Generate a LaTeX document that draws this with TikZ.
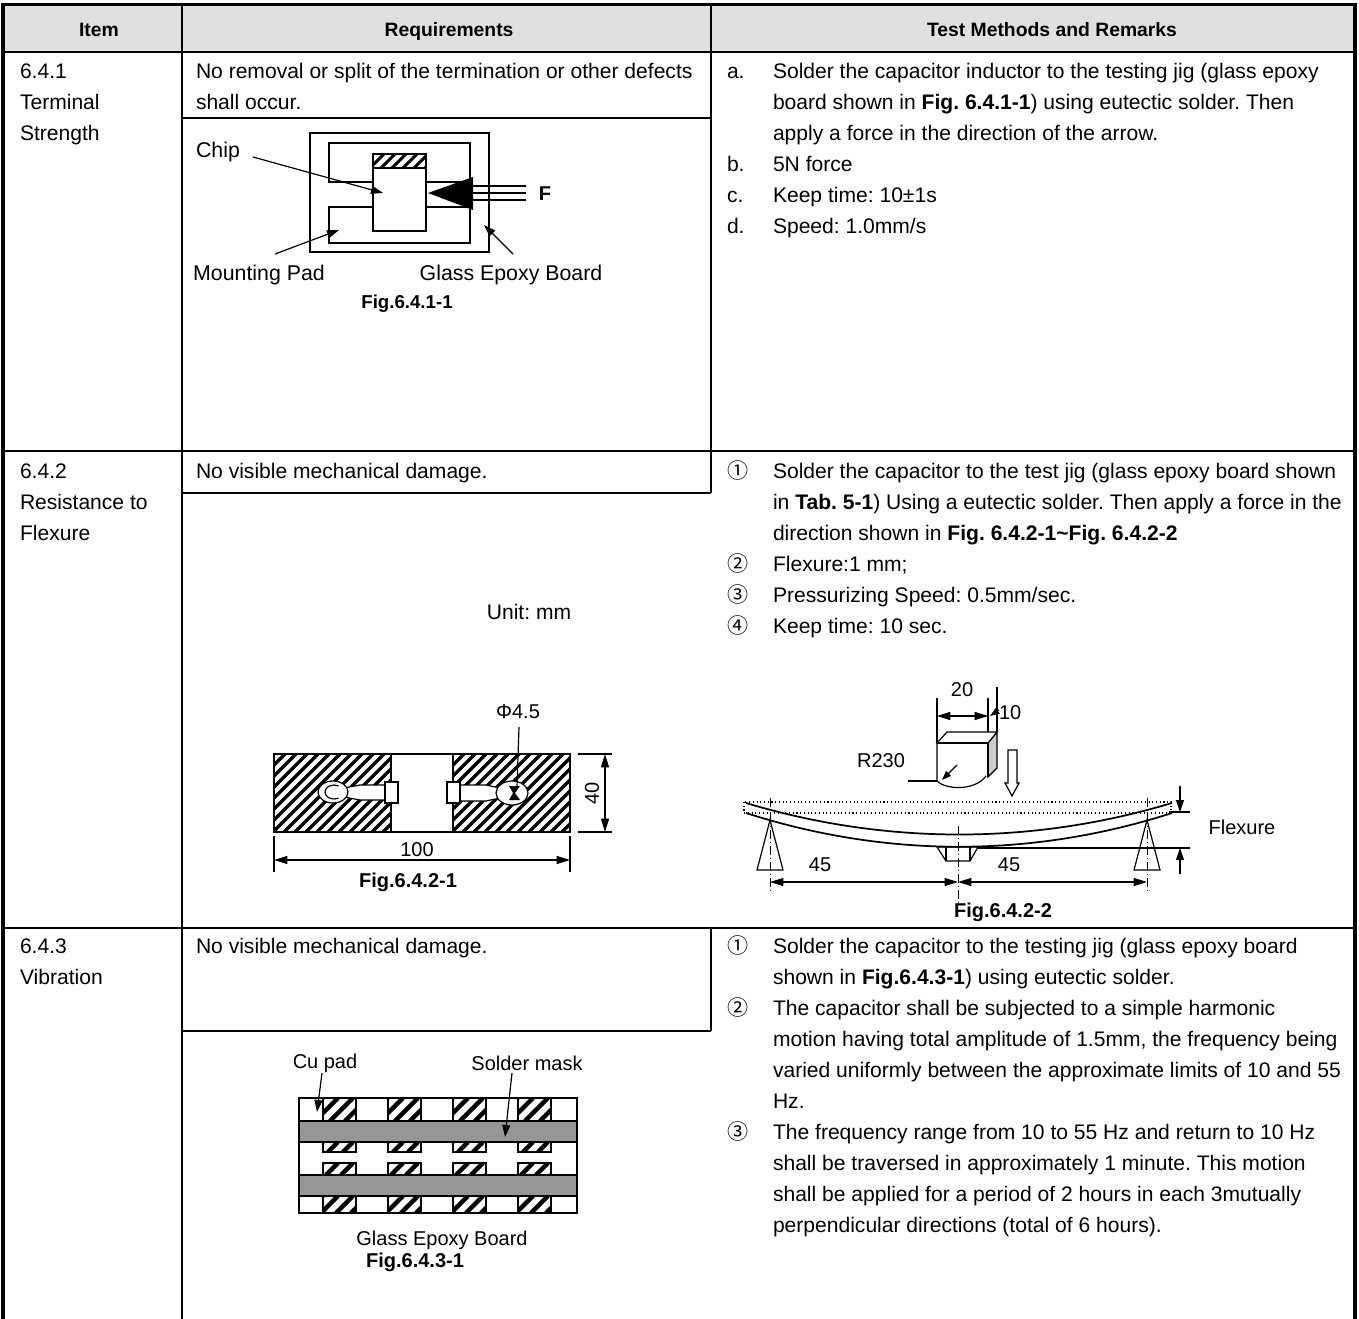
\documentclass[tikz,border=0pt]{standalone}
\usepackage{fontspec}
\setmainfont{Liberation Sans}
\newfontfamily\circfont{Noto Sans CJK SC}
\usetikzlibrary{arrows.meta}
\definecolor{hdgray}{RGB}{224,224,224}
\definecolor{maskgray}{RGB}{150,150,150}
\definecolor{sidegray}{RGB}{205,205,205}
\frenchspacing
% x1 y1 x2 y2 spacing linewidth
\newcommand{\hatchbox}[6]{%
  \begin{scope}
  \pgfmathsetmacro{\hxa}{#1}
  \pgfmathsetmacro{\hxb}{#3}
  \pgfmathsetmacro{\hh}{#4-#2}
  \pgfmathsetmacro{\hs}{\hxa-\hh}
  \pgfmathsetmacro{\hn}{\hs+#5}
  \clip (\hxa,#2) rectangle (\hxb,#4);
  \foreach \hx in {\hs,\hn,...,\hxb} \draw[line width=#6] (\hx,#4) -- ++(\hh,-\hh);
  \end{scope}}
\begin{document}
\begin{tikzpicture}[x=0.75pt,y=-0.75pt,
  every node/.style={inner sep=0pt,outer sep=0pt},
  txt/.style={anchor=base west,font=\fontsize{15.8}{18}\selectfont},
  hd/.style={anchor=base,font=\fontsize{14.5}{16}\selectfont\bfseries},
  lbl/.style={font=\fontsize{15}{18}\selectfont},
  figcap/.style={font=\fontsize{15}{18}\selectfont\bfseries},
  grid/.style={line width=1.5pt},
  outerline/.style={line width=3pt},
  thinline/.style={line width=0.9pt},
  figline/.style={line width=1.1pt},
  arr/.style={thinline,-{Triangle[length=9pt,width=6pt]}},
  dimarr/.style={thinline,{Triangle[length=10pt,width=6pt]}-{Triangle[length=10pt,width=6pt]}},
  axisline/.style={line width=0.6pt,dash pattern=on 7pt off 2pt on 1pt off 2pt},
]
\useasboundingbox (0,0) rectangle (1359,1319);

% ---------------- table ----------------
\fill[hdgray] (3,5) rectangle (1355,52);
\draw[line width=2.25pt] (1,5) -- (1357,5);
\draw[grid] (3,52) -- (1355,52);
\draw[grid] (3,451) -- (1355,451);
\draw[grid] (3,928) -- (1355,928);
\draw[grid] (182,5) -- (182,1319);
\draw[grid] (711,5) -- (711,493);
\draw[grid] (711,928) -- (711,1031);
\draw[grid] (182,118) -- (711,118);
\draw[grid] (182,493) -- (711,493);
\draw[grid] (182,1031) -- (711,1031);
\draw[outerline] (3,4) -- (3,1319);
\draw[outerline] (1355,4) -- (1355,1319);

% header
\node[hd] (h1) at (99,37) {Item};
\node[hd] (h2) at (449,37) {Requirements};
\node[hd] (h3) at (1052,37) {Test Methods and Remarks};

% item column
\node[txt] (i1a) at (20,79) {6.4.1};
\node[txt] (i1b) at (20,110) {Terminal};
\node[txt] (i1c) at (20,141) {Strength};
\node[txt] (i2a) at (20,478) {6.4.2};
\node[txt] (i2b) at (20,509) {Resistance to};
\node[txt] (i2c) at (20,540) {Flexure};
\node[txt] (i3a) at (20,953) {6.4.3};
\node[txt] (i3b) at (20,984) {Vibration};

% requirements
\node[txt] (q1a) at (196,79) {No removal or split of the termination or other defects};
\node[txt] (q1b) at (196,110) {shall occur.};
\node[txt] (q2a) at (196,478) {No visible mechanical damage.};
\node[txt] (q3a) at (196,953) {No visible mechanical damage.};

% test methods row 1
\node[txt] (m1a) at (727,79) {a.};
\node[txt] (t1a) at (773,79) {Solder the capacitor inductor to the testing jig (glass epoxy};
\node[txt] (t1b) at (773,110) {board shown in \textbf{Fig. 6.4.1-1}) using eutectic solder. Then};
\node[txt] (t1c) at (773,141) {apply a force in the direction of the arrow.};
\node[txt] (m1b) at (727,172) {b.};
\node[txt] (t1d) at (773,172) {5N force};
\node[txt] (m1c) at (727,203) {c.};
\node[txt] (t1e) at (773,203) {Keep time: 10±1s};
\node[txt] (m1d) at (727,234) {d.};
\node[txt] (t1f) at (773,234) {Speed: 1.0mm/s};

% test methods row 2
\node[txt] (m2a) at (727,478) {\circfont ①};
\node[txt] (t2a) at (773,478) {Solder the capacitor to the test jig (glass epoxy board shown};
\node[txt] (t2b) at (773,509) {in \textbf{Tab. 5-1}) Using a eutectic solder. Then apply a force in the};
\node[txt] (t2c) at (773,540) {direction shown in \textbf{Fig. 6.4.2-1\textasciitilde Fig. 6.4.2-2}};
\node[txt] (m2b) at (727,571) {\circfont ②};
\node[txt] (t2d) at (773,571) {Flexure:1 mm;};
\node[txt] (m2c) at (727,602) {\circfont ③};
\node[txt] (t2e) at (773,602) {Pressurizing Speed: 0.5mm/sec.};
\node[txt] (m2d) at (727,633) {\circfont ④};
\node[txt] (t2f) at (773,633) {Keep time: 10 sec.};

% test methods row 3
\node[txt] (m3a) at (727,953) {\circfont ①};
\node[txt] (t3a) at (773,953) {Solder the capacitor to the testing jig (glass epoxy board};
\node[txt] (t3b) at (773,984) {shown in \textbf{Fig.6.4.3-1}) using eutectic solder.};
\node[txt] (m3b) at (727,1015) {\circfont ②};
\node[txt] (t3c) at (773,1015) {The capacitor shall be subjected to a simple harmonic};
\node[txt] (t3d) at (773,1046) {motion having total amplitude of 1.5mm, the frequency being};
\node[txt] (t3e) at (773,1077) {varied uniformly between the approximate limits of 10 and 55};
\node[txt] (t3f) at (773,1108) {Hz.};
\node[txt] (m3c) at (727,1139) {\circfont ③};
\node[txt] (t3g) at (773,1139) {The frequency range from 10 to 55 Hz and return to 10 Hz};
\node[txt] (t3h) at (773,1170) {shall be traversed in approximately 1 minute. This motion};
\node[txt] (t3i) at (773,1201) {shall be applied for a period of 2 hours in each 3mutually};
\node[txt] (t3j) at (773,1232) {perpendicular directions (total of 6 hours).};

% ---------------- Fig 6.4.1-1 ----------------
\draw[figline] (310,133) rectangle (489,252);
\draw[figline] (373,182) -- (329,182) -- (329,143) -- (470,143) -- (470,243) -- (329,243) -- (329,207) -- (373,207);
\draw[figline] (426,182) -- (470,182);
\draw[figline] (426,207) -- (470,207);
\draw[figline,fill=white] (373,154) rectangle (426,231);
\hatchbox{373}{154}{426}{168}{11}{2.2pt}
\draw[figline] (373,154) rectangle (426,231);
\draw[figline] (373,168) -- (426,168);
\fill (428,193) -- (473,177) -- (473,210) -- cycle;
\draw[figline] (473,186) -- (526,186);
\draw[figline] (473,193) -- (526,193);
\draw[figline] (473,200) -- (526,200);
\node[font=\fontsize{15}{18}\selectfont\bfseries] (fF) at (545,194) {F};
\node[lbl,font=\fontsize{16}{18}\selectfont] (chiplbl) at (218,152) {Chip};
\coordinate (chipst) at (253,157);
\coordinate (chipin) at (383,193);
\draw[arr] (chipst) -- (chipin);
\node[lbl,font=\fontsize{16}{18}\selectfont] (padlbl) at (259,275) {Mounting Pad};
\coordinate (padst) at (275,254);
\coordinate (padin) at (339,230);
\draw[arr] (padst) -- (padin);
\node[lbl,font=\fontsize{16}{18}\selectfont] (boardlbl) at (511,275) {Glass Epoxy Board};
\coordinate (boardst) at (513,254);
\coordinate (boardin) at (484,225);
\draw[arr] (boardst) -- (boardin);
\node[figcap,font=\fontsize{14}{16}\selectfont\bfseries] (cap1) at (407,304) {Fig.6.4.1-1};

% ---------------- Fig 6.4.2-1 ----------------
\node[lbl,font=\fontsize{15.8}{18}\selectfont] (unit) at (529,612) {Unit: mm};
\hatchbox{274}{754}{391}{832}{11}{2.5pt}
\hatchbox{453}{754}{570}{832}{11}{2.5pt}
\draw[figline] (274,754) rectangle (570,832);
\draw[figline] (391,754) -- (391,832);
\draw[figline] (453,754) -- (453,832);
% left pad
\draw[thinline,fill=white] (344,788) -- (360,785) -- (386,785) -- (386,800) -- (360,800) -- (344,797) -- cycle;
\draw[thinline,fill=white] (333,792) ellipse [x radius=15, y radius=11];
\draw[thinline] ([shift={(334,792)}]60:9 and 7) arc[start angle=60,end angle=300,x radius=9,y radius=7];
\draw[thinline,fill=white] (385,782) rectangle (398,803);
% right pad
\draw[thinline,fill=white] (460,785) -- (486,785) -- (500,788) -- (500,798) -- (486,801) -- (460,801) -- cycle;
\draw[thinline,fill=white] (512,793) ellipse [x radius=16, y radius=12];
\fill (509,786) -- (520,786) -- (515,793) -- (520,800) -- (509,800) -- (513,793) -- cycle;
\draw[thinline,fill=white] (447,782) rectangle (460,803);
\node[lbl] (phi) at (518,712) {Φ4.5};
\coordinate (phist) at (519,727);
\coordinate (phiend) at (517,787);
\draw[thinline] (phist) -- (phiend);
% dimension 40
\draw[thinline] (578,754) -- (612,754);
\draw[thinline] (578,832) -- (612,832);
\coordinate (d40a) at (605,754);
\coordinate (d40b) at (605,832);
\draw[dimarr] (d40a) -- (d40b);
\node[lbl,rotate=90] (l40) at (592,793) {40};
% dimension 100
\draw[thinline] (274,836) -- (274,872);
\draw[thinline] (570,836) -- (570,872);
\coordinate (d100a) at (274,860);
\coordinate (d100b) at (570,860);
\draw[dimarr] (d100a) -- (d100b);
\node[lbl] (l100) at (417,850) {100};
\node[figcap] (cap2) at (408,882) {Fig.6.4.2-1};

% ---------------- Fig 6.4.2-2 ----------------
\draw[thinline] (937,698) -- (937,743);
\draw[thinline] (988,698) -- (988,743);
\draw[thinline] (997,687) -- (997,732);
\coordinate (d20a) at (937,716);
\coordinate (d20b) at (988,716);
\draw[dimarr] (d20a) -- (d20b);
\draw[thinline,-{Triangle[length=7pt,width=5pt]}] (999,710) -- (990,716);
\node[lbl] (l20) at (962,690) {20};
\node[lbl,anchor=west] (l10) at (999,713) {10};
% block
\draw[thinline,fill=sidegray] (988,743) -- (997,732) -- (997,768) -- (988,777) -- cycle;
\draw[thinline,fill=white] (937,743) -- (947,732) -- (997,732) -- (988,743) -- cycle;
\draw[thinline] (937,743) -- (988,743) -- (988,777);
\draw[thinline] (937,743) -- (937,781) .. controls (946,790) and (975,791) .. (986,776);
\coordinate (rlead) at (908,781);
\coordinate (rarc) at (937,781);
\draw[thinline] (rlead) -- (rarc);
\draw[thinline,-{Triangle[length=7pt,width=5pt]}] (957,765) -- (942,780);
\node[lbl] (r230) at (881,761) {R230};
% hollow arrow
\draw[thinline,fill=white] (1008,750) -- (1017,750) -- (1017,783) -- (1019,783) -- (1012,796) -- (1005,783) -- (1008,783) -- cycle;
% board
\draw[line width=0.8pt,dotted] (744,802) rectangle (1171,813);
\draw[line width=1.3pt] (746,803) .. controls (886,845) and (1032,845) .. (1172,803);
\draw[line width=1.3pt] (746,813) .. controls (886,858) and (1032,858) .. (1172,813);
% supports
\draw[thinline,fill=white] (770,820) -- (783,870) -- (757,870) -- cycle;
\draw[thinline,fill=white] (1147,820) -- (1160,870) -- (1134,870) -- cycle;
\draw[thinline] (937,847) -- (978,847) -- (970,861) -- (946,861) -- cycle;
\draw[thinline] (946,847) -- (946,861);
\draw[thinline] (970,847) -- (970,861);
\draw[axisline] (770,798) -- (770,893);
\draw[axisline] (1147,798) -- (1147,893);
\draw[axisline] (958,826) -- (958,903);
% dims 45
\coordinate (p45a) at (770,882);
\coordinate (p45b) at (958,882);
\coordinate (p45c) at (1147,882);
\draw[dimarr] (p45a) -- (p45b);
\draw[dimarr] (p45b) -- (p45c);
\node[lbl] (l45a) at (820,865) {45};
\node[lbl] (l45b) at (1009,865) {45};
% flexure
\draw[thinline] (1169,812) -- (1190,812);
\draw[thinline] (978,848) -- (1190,848);
\coordinate (fxa) at (1180,812);
\coordinate (fxb) at (1180,848);
\draw[thinline,-{Triangle[length=9pt,width=6pt]}] (1180,786) -- (fxa);
\draw[thinline,-{Triangle[length=9pt,width=6pt]}] (1180,874) -- (fxb);
\node[lbl] (flex) at (1242,827) {Flexure};
\node[figcap] (cap3) at (1003,912) {Fig.6.4.2-2};

% ---------------- Fig 6.4.3-1 ----------------
\draw[figline] (299,1098) rectangle (577,1213);
\foreach \px in {323,388,453,518} {
  \hatchbox{\px}{1098}{\px+33}{1121}{15}{3.3pt}
  \draw[thinline] (\px,1098) rectangle (\px+33,1121);
  \hatchbox{\px}{1142}{\px+33}{1152}{15}{3.3pt}
  \draw[thinline] (\px,1142) rectangle (\px+33,1152);
  \hatchbox{\px}{1163}{\px+33}{1175}{15}{3.3pt}
  \draw[thinline] (\px,1163) rectangle (\px+33,1175);
  \hatchbox{\px}{1196}{\px+33}{1213}{15}{3.3pt}
  \draw[thinline] (\px,1196) rectangle (\px+33,1213);
}
\draw[figline,fill=maskgray] (299,1121) rectangle (577,1142);
\draw[figline,fill=maskgray] (299,1175) rectangle (577,1196);
\draw[figline] (299,1098) rectangle (577,1213);
\node[lbl] (culbl) at (325,1063) {Cu pad};
\coordinate (cust) at (322,1073);
\coordinate (cuin) at (317,1112);
\draw[arr] (cust) -- (cuin);
\node[lbl] (smlbl) at (527,1063) {Solder mask};
\coordinate (smst) at (512,1073);
\coordinate (smin) at (505,1137);
\draw[arr] (smst) -- (smin);
\node[lbl] (gelbl) at (442,1240) {Glass Epoxy Board};
\node[figcap] (cap4) at (415,1262) {Fig.6.4.3-1};
\end{tikzpicture}
\end{document}
